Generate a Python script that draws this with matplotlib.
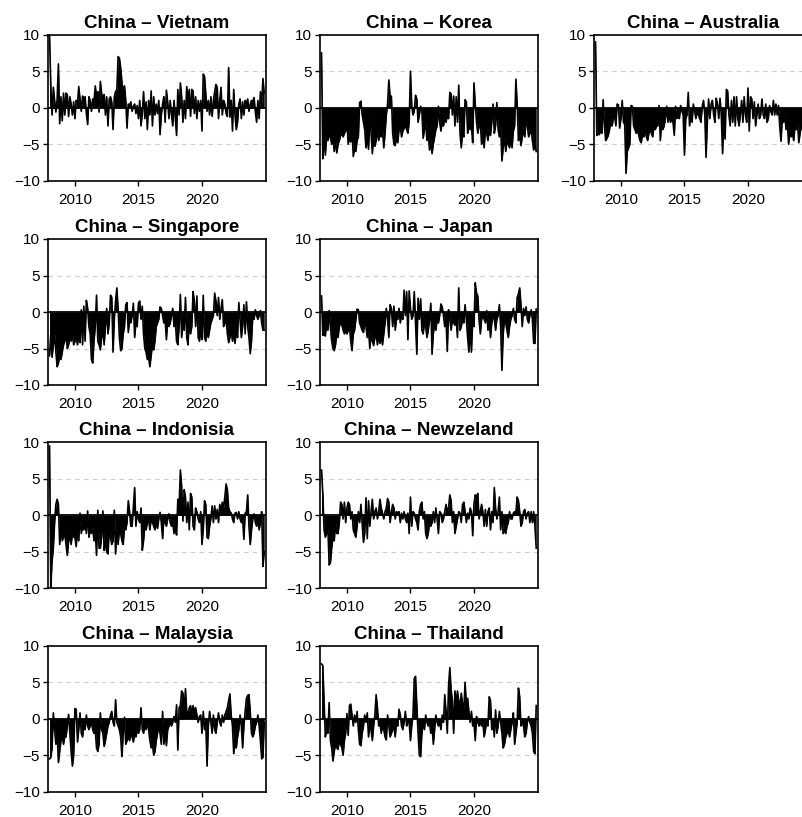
import numpy as np
import matplotlib.pyplot as plt

plt.rcParams['font.family'] = ['Liberation Sans', 'DejaVu Sans']

# sample times: 10 per year, 2008.0 .. 2024.9
t = 2008 + np.arange(170) / 10

vietnam = [
    10.0, 3.0, -1.0, 2.8, 1.0, -0.6, 1.2, 6.0, -2.2, 1.5,
    -1.8, 2.0, -1.0, 2.0, 1.8, -1.2, 1.5, 0.5, -1.0, 0.8,
    -1.5, 1.0, 0.5, 2.9, 1.2, -0.5, 1.6, 1.0, 1.5, -0.8,
    -2.3, 1.5, 1.0, -0.5, 1.2, 0.8, 3.0, 1.5, 2.2, -0.6,
    3.6, 2.0, 1.0, 1.8, -1.0, 1.5, -2.5, 1.2, 1.5, 0.8,
    -3.0, 1.5, 2.2, 2.5, 7.0, 6.8, 5.5, 3.5, 2.0, 3.0,
    1.0, -2.8, 0.5, 0.3, 0.8, -0.5, 0.2, 0.5, -0.8, 0.3,
    -1.5, 1.0, -2.5, -0.8, 2.2, -1.5, 0.8, -3.0, 1.0, -1.0,
    2.3, -2.5, 1.5, -1.0, 0.5, -0.8, 1.0, -3.7, -1.0, 0.5,
    1.5, -2.0, 2.4, 0.8, -1.5, 1.0, -1.0, -2.5, 1.0, -1.5,
    -3.8, 2.5, -1.0, 3.4, 1.5, -2.0, 1.0, -1.5, 2.9, 1.0,
    2.5, -1.2, 2.5, 2.3, -0.8, 1.5, -1.5, 1.0, -0.5, 1.0,
    -3.2, 4.6, 4.3, 2.0, -0.5, 1.0, -1.0, 1.5, -1.2, 1.0,
    2.2, 3.2, 2.8, -1.5, 1.0, 2.8, -1.0, 1.0, 0.5, -0.8,
    -1.2, 5.5, -1.3, 1.0, -3.2, 2.5, -1.0, -3.0, -2.0, 0.5,
    1.2, -1.5, 0.8, -1.0, 1.0, 0.5, 1.2, -0.5, 0.5, 1.0,
    0.8, 1.4, -0.5, -2.0, 1.0, -1.5, 2.2, 0.5, 4.0, 2.0,
]

korea = [
    7.5, -7.0, -4.0, -6.5, -4.0, -4.5, -3.8, -4.0, -5.0, -4.2,
    -6.0, -4.5, -6.2, -5.0, -4.5, -3.8, -3.5, -4.0, -3.5, -3.2,
    -2.0, -5.0, -4.0, -4.7, -3.0, -6.7, -5.5, -6.0, -4.5, -4.0,
    0.7, 0.9, -1.0, -2.0, -3.0, -5.5, -4.0, -5.7, -1.0, -3.5,
    -6.3, -4.0, -5.3, -4.5, -3.0, -4.5, -3.5, -4.0, -3.0, -5.5,
    -3.5, -1.0, 0.5, 3.8, 1.5, 1.6, -3.5, -5.0, -5.2, -4.0,
    -4.8, -3.0, -2.5, -4.0, -3.2, -2.8, -2.5, -3.0, -3.5, -2.0,
    5.0, 0.3, -1.0, -0.5, 1.7, 1.2, -2.0, -1.0, 0.2, -0.5,
    -4.2, -3.0, -2.0, -4.5, -3.5, -5.8, -4.5, -6.3, -5.0, -4.0,
    -3.0, -2.5, 0.2, -2.0, -3.2, -2.0, -2.5, -1.5, -2.0, -1.0,
    -1.5, 2.1, 1.9, -1.0, 1.6, -2.5, 1.5, -2.0, 3.1, -3.5,
    -5.5, -3.5, -4.0, 1.1, 0.8, -3.5, -2.5, -3.0, -2.5, -4.8,
    3.4, 0.5, -2.0, -3.5, -2.5, -2.0, -5.0, -4.0, -5.5, -3.0,
    -3.5, -4.5, -3.0, -3.8, -2.0, 0.5, -3.5, -2.5, 0.7, -3.0,
    -4.0, -2.5, -7.3, -5.5, -4.0, -6.0, -4.5, -5.0, -5.5, -4.0,
    -5.5, -3.2, -2.5, 3.9, 0.5, -4.5, -3.5, -5.2, -4.0, -3.0,
    -4.0, -1.5, -2.5, -4.0, -3.5, -3.0, -4.5, -5.8, -5.0, -6.0,
]

australia = [
    9.0, -3.8, -3.5, -3.7, -3.0, -3.5, 1.1, -2.5, -4.5, -4.2,
    -3.8, -3.0, -2.0, -2.5, -1.5, -1.0, -2.5, 0.5, 0.4, -2.8,
    -1.5, 1.0, -2.0, -2.3, -9.0, -6.0, -5.5, -5.0, 0.3, 0.2,
    -2.5, -3.0, -3.5, -3.0, -3.8, -4.5, -4.8, -3.5, -4.0, -3.0,
    -4.0, -4.5, -3.5, -3.0, -3.5, -4.0, -2.5, -3.0, -2.5, -2.5,
    0.3, -4.5, -2.0, -3.0, -2.5, -1.5, 0.2, -2.0, -1.0, -2.0,
    -1.5, -2.0, -3.8, 0.2, -1.5, -1.0, -1.5, 0.3, -0.5, -1.0,
    -6.5, -1.5, -1.0, 2.1, -2.5, -1.0, -2.0, 0.5, -0.5, -1.5,
    -0.5, -1.0, -1.5, -2.0, 0.2, 1.0, -1.0, -6.8, -2.0, 1.2,
    -1.5, 0.5, 1.0, -1.0, -2.0, 1.3, 0.5, -1.5, 1.3, -1.0,
    -6.3, -1.5, -4.3, 2.5, 2.3, -1.0, -2.5, 1.0, -2.0, 1.5,
    -2.5, 1.5, -1.5, -2.5, -1.0, 1.0, -2.0, 1.5, -1.0, -2.0,
    2.7, -3.2, 1.5, 1.2, -1.5, 0.8, -2.5, -1.0, 0.5, -1.5,
    -1.0, 1.2, -1.0, -1.5, 0.5, -2.0, -1.5, 0.3, -0.5, -1.0,
    1.0, -1.0, 0.5, -1.0, 0.3, -2.5, -4.6, -1.5, -2.0, -1.0,
    -3.0, -2.0, -5.0, -3.0, -4.0, -3.5, -4.5, -2.5, -3.0, -2.0,
    -4.8, -3.5, -2.5, -3.0, -4.0, -3.0, -2.5, -3.5, -2.0, -3.0,
]

singapore = [
    -6.0, -3.0, -6.2, -4.5, -3.0, -5.5, -7.5, -7.0, -6.0, -6.5,
    -5.5, -4.5, -4.0, -3.0, -5.0, -4.5, -3.5, -4.0, -3.0, -4.5,
    -4.0, -3.5, -4.5, -3.0, -4.2, 0.3, -4.5, 0.8, -4.0, 1.6,
    0.5, -2.0, -3.0, -6.5, -7.0, -4.0, -2.0, 2.3, -4.0, -4.5,
    -5.2, -3.5, -2.5, -4.5, -2.0, 0.5, -3.0, -1.5, 2.3, 2.0,
    -5.5, -1.0, 1.5, 3.3, 0.3, -3.5, -5.3, -5.0, -3.0, -2.0,
    1.0, 1.3, -2.8, -1.0, -1.5, -0.5, 1.2, -3.5, -1.5, -2.0,
    1.2, 1.5, -1.0, 0.8, -3.0, -5.0, -5.5, -6.5, -6.3, -7.5,
    -6.0, -4.5, -5.2, -4.0, -2.0, -1.5, -1.0, 0.7, 0.5, -0.5,
    -1.5, -1.0, -3.8, -1.0, -2.0, -1.5, -0.5, 0.5, -2.0, -1.0,
    -4.0, -4.5, -2.0, 2.4, -3.5, -1.5, -2.5, 2.0, -3.5, -4.5,
    -1.0, -3.0, -2.0, 2.8, 1.5, -2.0, 2.2, -3.5, -4.0, -2.5,
    -3.8, 2.3, -3.5, -4.0, -2.5, -3.5, -2.5, -1.5, -1.0, -0.5,
    2.6, 1.5, -0.5, 2.0, -1.0, 0.5, 1.7, -2.0, -1.5, -1.0,
    -3.0, -4.2, -3.5, -2.5, -4.0, -3.0, -4.3, -2.5, -3.5, 1.3,
    -1.0, -3.5, -2.0, 1.0, -3.0, 1.4, -2.0, -3.5, -5.7, -4.0,
    -0.5, -1.0, 0.3, -0.5, -1.0, -0.5, 0.2, -1.5, -2.5, -2.5,
]

japan = [
    2.2, -3.2, -3.0, -3.3, -1.5, -2.5, 0.2, -2.0, -4.0, -5.0,
    -5.3, -4.5, -3.0, -3.5, -2.0, -1.5, -1.8, -2.5, -3.0, -2.5,
    -3.0, -2.5, -2.0, -4.0, -5.3, -3.0, -2.5, -1.0, 0.4, 0.3,
    -1.5, -2.0, -2.5, -2.8, -1.5, -2.0, -3.5, -2.5, -5.0, -3.0,
    -4.0, -4.6, -3.5, -3.0, -4.5, -3.0, -4.3, -3.5, -4.5, -3.0,
    -1.5, 0.5, -1.0, -3.5, 1.0, 0.5, -2.0, 0.8, -2.5, -1.0,
    -1.0, 0.5, -1.5, -0.5, -1.0, 3.0, -0.5, 2.8, -3.8, 2.9,
    0.5, -1.0, -0.5, 2.8, -1.5, -5.8, 1.9, -1.0, 1.8, -2.5,
    -3.0, -1.5, -2.0, -3.5, -2.5, -1.0, 1.2, -5.8, -3.0, -1.5,
    -2.5, -1.0, -1.5, -0.5, 1.1, 0.7, -0.5, -2.0, -1.0, -5.4,
    0.3, -1.0, -2.5, -1.0, -1.5, -1.8, -1.0, -3.5, 3.3, -2.5,
    -2.0, -1.0, -1.5, 1.0, -1.0, -3.5, -5.5, -2.0, -5.5, -1.0,
    -2.0, 4.0, 2.6, 2.2, -1.0, -3.0, -1.0, -0.5, -1.0, -1.5,
    0.2, -2.5, -1.0, -3.5, -1.5, -0.5, -1.0, -2.5, -1.0, -0.5,
    1.0, -2.0, -8.0, -3.0, -1.0, -1.5, -2.5, -3.5, -2.0, -1.0,
    -0.5, 0.5, -1.0, -1.5, 2.0, 2.5, 3.3, 1.0, -2.0, 0.5,
    -0.5, 0.7, -1.0, -1.5, -0.5, 0.3, -1.0, -4.3, -4.3, 0.4,
]

indonisia = [
    9.5, -9.8, -6.3, -4.5, -1.0, 1.5, 2.2, 1.5, -4.0, -2.0,
    -3.5, -3.0, -2.5, -4.0, -5.5, -3.5, -3.0, -4.0, -2.5, -3.0,
    -3.0, -4.3, -2.0, -3.5, 0.3, -2.5, -1.5, -2.0, -1.0, -2.5,
    0.6, -3.0, -2.0, -2.5, -1.5, -3.5, -2.0, -5.5, 0.7, -4.5,
    -4.5, -3.0, 0.6, -4.8, -3.5, -5.0, -5.3, -2.0, -3.0, -4.0,
    -3.5, 0.7, -5.3, -2.0, -4.0, -2.0, -2.5, -3.5, -4.0, -1.5,
    -2.0, -1.0, 2.0, 0.5, -1.5, -1.5, 1.2, 3.8, -1.5, 0.5,
    -0.5, -1.0, 1.0, -4.8, -3.5, -1.5, -2.0, -1.0, -0.5, -2.0,
    -0.5, -1.0, -1.5, -2.0, -1.0, -1.8, -0.5, 0.4, -1.0, -3.2,
    -0.5, -1.0, -1.5, -0.5, 0.2, -1.0, -1.5, -1.0, -2.5, -1.5,
    -2.7, 2.2, 1.2, 6.2, 4.0, -0.8, 3.5, 2.5, -1.0, 1.8,
    -2.0, 3.0, 2.5, -1.5, -2.0, 1.0, 0.5, -0.5, -1.0, 0.5,
    -4.0, -2.0, 2.0, 1.5, -3.0, -3.2, -1.5, -0.5, 1.3, -1.0,
    1.3, -0.5, 0.8, -1.0, 1.5, 0.5, 1.8, 1.0, 2.5, 4.3,
    3.5, 1.0, 0.5, 0.3, -0.5, -1.0, 0.3, 0.4, -0.5, 0.5,
    -0.5, -1.0, -0.5, -3.3, 0.3, 0.5, 2.8, -1.5, -4.0, -2.0,
    -0.5, 0.2, -1.0, -1.5, -0.5, -2.0, -1.0, 0.5, -7.0, -5.0,
]

newzeland = [
    6.2, 3.0, -2.0, -3.0, -2.5, -1.5, -6.8, -6.5, -4.5, -3.0,
    -3.5, -1.0, -2.5, -2.5, -1.0, 1.8, 1.5, -0.5, 1.8, -1.0,
    1.0, 1.8, 1.5, -0.5, 0.5, -2.0, -2.5, -3.0, -1.5, 0.5,
    -1.0, 1.5, -1.0, -3.7, -2.5, 2.4, -3.2, 2.0, -1.5, 0.5,
    2.2, -0.5, 0.5, 1.0, -0.5, 0.5, 2.2, 1.0, 0.3, -0.5,
    0.5, 1.0, 2.3, 1.8, -1.0, 0.5, 1.5, 1.0, -0.5, 0.5,
    0.3, 0.5, -1.0, 0.3, -0.5, 0.5, -0.5, -1.0, 0.3, -2.5,
    2.5, -1.5, 0.5, 0.3, -0.5, -1.0, -2.0, 0.5, 1.5, 1.8,
    -0.5, 0.5, -2.5, -3.2, -2.5, -1.0, -1.5, -1.0, 0.5, -1.0,
    1.0, -0.5, -2.5, 0.5, 0.3, -1.0, -0.5, 0.5, 1.5, 0.5,
    1.0, 2.8, 2.0, -1.0, 0.5, -2.5, -1.5, -0.5, 0.5, 0.3,
    -1.0, 1.5, 1.8, 0.5, -1.0, 0.3, -0.5, 1.0, 0.5, -2.8,
    1.5, 2.8, 2.5, 3.0, -0.5, 0.5, 1.5, 0.5, -1.5, 0.8,
    -1.5, 0.5, 1.0, -2.0, 0.5, -1.0, 3.8, 1.0, -0.5, 0.5,
    2.5, -2.0, 0.5, -2.5, -2.0, -2.5, -1.5, -1.0, 0.5, -0.5,
    -0.5, 0.3, 0.5, 0.3, 2.5, 2.0, 0.5, -1.5, -1.0, 0.5,
    0.8, -0.5, 0.3, 0.5, -1.0, 0.5, -1.0, 0.5, -1.5, -4.5,
]

malaysia = [
    -5.5, -5.3, -4.0, 0.8, -1.5, -3.5, -2.0, -6.0, -4.5, -3.0,
    -2.5, -3.5, -2.5, -2.5, -1.0, 0.6, -2.0, -4.5, -6.5, -5.0,
    1.4, 1.3, -3.2, -1.5, 0.8, -2.0, -2.5, -1.0, -1.5, 0.5,
    -1.0, -1.5, -1.0, -0.5, -1.5, -2.0, -1.5, -4.0, -4.5, -3.5,
    0.8, -1.5, -2.0, -3.8, -3.0, -2.0, -1.0, -0.5, 0.5, 1.0,
    -0.5, -1.0, 2.6, -0.5, -1.0, -1.5, -2.5, -5.2, -2.0, 0.2,
    -3.5, -3.0, -2.5, -3.0, -2.0, -2.5, -3.2, -2.0, -2.5, -1.5,
    -2.0, -1.5, 1.5, -1.5, -2.0, -1.0, -1.5, -0.5, -1.5, -3.0,
    -4.0, -3.5, -5.0, -4.5, -3.0, -2.0, -1.0, -2.0, -3.5, 1.0,
    -3.5, -2.0, -3.7, -1.5, -1.0, -0.5, -1.0, -0.5, 0.3, -0.5,
    1.9, -4.3, 1.5, 1.8, 3.8, 3.5, 1.0, 4.1, 1.0, 0.5,
    1.5, 1.8, 0.5, 1.8, 1.0, 1.5, 0.5, -0.5, 0.3, 0.5,
    -2.0, 1.0, -1.5, -0.5, -6.5, -1.0, 1.0, -0.5, -2.0, 0.5,
    -1.5, -2.0, -0.5, 0.8, -0.5, -1.0, 0.5, -0.5, 0.5, 1.0,
    1.5, 2.5, 3.4, 0.5, -1.0, -4.8, -3.5, -4.0, -2.5, -1.5,
    0.5, -1.0, -4.0, -1.0, 1.0, 2.8, 3.2, 3.3, 1.0, -2.0,
    -2.5, -2.0, -1.0, -0.5, 0.5, -1.0, -3.0, -5.5, -5.3, -0.5,
]

thailand = [
    7.5, 7.3, 2.5, -2.5, -1.5, -2.0, 2.2, -3.0, -4.0, -5.8,
    -4.5, -3.5, -4.0, -4.2, -3.0, -3.5, -4.0, -5.0, -3.0, -2.0,
    0.7, -2.3, 1.8, 2.0, 0.5, -1.0, 0.5, -0.5, 1.0, -1.5,
    -3.5, -3.7, -2.0, -1.0, 0.5, -0.5, 0.8, -2.5, -1.0, -1.5,
    -3.0, -1.0, 0.5, 3.3, 1.5, -1.0, -0.5, -2.0, -1.0, -1.5,
    -2.5, -2.9, 0.5, -1.0, -2.5, -2.0, -1.5, -1.0, -2.5, -0.5,
    -1.0, 1.3, 0.5, -1.0, -1.5, -0.5, 1.0, -1.0, -0.5, -0.5,
    -3.0, -1.0, 0.5, 5.5, 5.8, 2.0, -2.0, -5.0, -5.2, -2.0,
    -0.5, -1.5, 0.5, -0.5, -1.0, -0.5, -2.0, -1.0, -3.5, -1.5,
    0.5, -0.5, -1.0, -0.5, -1.5, 0.5, -0.5, 3.3, 1.0, -2.0,
    4.5, 7.0, 4.0, 2.5, -2.0, 3.8, 2.0, 3.8, 2.5, 1.5,
    3.5, 2.0, 1.0, 5.0, 2.0, 2.8, 1.0, -0.5, 1.0, -1.0,
    -0.5, -3.0, 0.3, -0.5, -1.0, -0.5, -1.0, -0.5, -2.5, -1.5,
    -0.5, -1.0, 3.0, 2.5, -1.5, -0.5, -2.5, 1.2, -2.0, -1.0,
    1.0, -0.5, -2.0, -4.0, -3.5, -2.5, -2.0, -1.5, -2.5, -1.5,
    -0.5, 0.8, -3.5, -2.0, -0.5, 4.2, 3.0, -1.0, -0.5, -1.0,
    -2.5, -2.0, -0.5, 0.3, -0.5, -1.0, -2.0, -4.5, -4.8, 1.8,
]

titles = ["China – Vietnam", "China – Korea", "China – Australia",
          "China – Singapore", "China – Japan",
          "China – Indonisia", "China – Newzeland",
          "China – Malaysia", "China – Thailand"]
series = [vietnam, korea, australia, singapore, japan,
          indonisia, newzeland, malaysia, thailand]
grid_pos = [(0, 0), (0, 1), (0, 2), (1, 0), (1, 1), (2, 0), (2, 1), (3, 0), (3, 1)]

# panel layout in pixels (the third column runs off the right edge, as in the source)
W, H = 803, 817
col_x = [48, 320, 594]
row_y = [34.7, 239, 442.3, 645.7]
pw, ph = 218, 146

fig = plt.figure(figsize=(W / 100, H / 100), dpi=100)

for title, vals, (r, c) in zip(titles, series, grid_pos):
    ax = fig.add_axes([col_x[c] / W, 1 - (row_y[r] + ph) / H, pw / W, ph / H])
    for yy in (5, -5):
        ax.axhline(yy, color="#cccccc", lw=0.8, ls=(0, (4, 4)), zorder=1)
    ax.fill_between(t, 0, vals, color="black", lw=0, zorder=2)
    ax.plot(t, vals, color="black", lw=1.2, zorder=3)
    ax.axhline(0, color="black", lw=1.3, zorder=3)

    ax.set_xlim(2007.88, 2025.04)
    ax.set_ylim(-10, 10)
    ax.set_xticks([2010, 2015, 2020])
    ax.set_yticks([-10, -5, 0, 5, 10])
    ax.tick_params(direction="out", length=3.5, width=1, labelsize=11,
                   top=False, right=False)
    ax.tick_params(axis="x", pad=5)
    ax.tick_params(axis="y", pad=2.5)
    for s in ax.spines.values():
        s.set_linewidth(1.2)
    ax.set_title(title, fontsize=13.5, fontweight="bold", pad=5)

fig.savefig("out.png", dpi=100)
